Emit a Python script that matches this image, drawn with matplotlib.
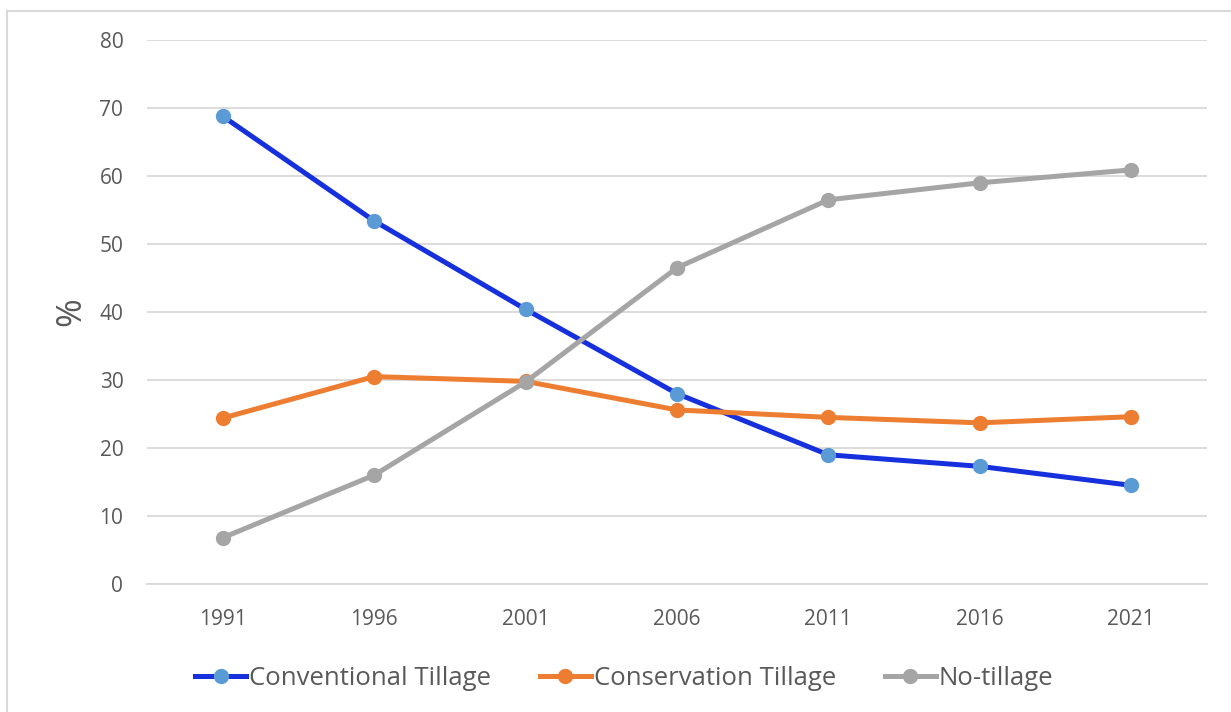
import matplotlib.pyplot as plt
from matplotlib.lines import Line2D

years = ['1991', '1996', '2001', '2006', '2011', '2016', '2021']
conventional = [68.8, 53.4, 40.4, 28.0, 19.0, 17.3, 14.5]
conservation = [24.4, 30.5, 29.8, 25.6, 24.5, 23.7, 24.6]
no_tillage = [6.8, 16.0, 29.7, 46.5, 56.5, 59.0, 60.9]

plt.rcParams['font.family'] = ['Open Sans', 'DejaVu Sans']
txt = '#595959'

fig = plt.figure(figsize=(12.31, 7.12), dpi=100)
ax = fig.add_axes([0.1194, 0.1798, 0.861, 0.764])

x = range(len(years))
ax.plot(x, conventional, color='#1530DC', lw=3.6, marker='o', ms=10,
        mfc='#5B9BD5', mec='#5B9BD5', label='Conventional Tillage', zorder=3)
ax.plot(x, conservation, color='#ED7D31', lw=3.6, marker='o', ms=10,
        mfc='#ED7D31', mec='#ED7D31', label='Conservation Tillage', zorder=3)
ax.plot(x, no_tillage, color='#A5A5A5', lw=3.6, marker='o', ms=10,
        mfc='#A5A5A5', mec='#A5A5A5', label='No-tillage', zorder=3)

ax.set_xlim(-0.5, 6.5)
ax.set_ylim(0, 80)
ax.set_yticks(range(0, 81, 10))
ax.set_xticks(list(x))
ax.set_xticklabels(years)
ax.grid(axis='y', color='#D9D9D9', lw=1.3)
ax.set_axisbelow(True)
for s in ['top', 'right', 'left']:
    ax.spines[s].set_visible(False)
ax.spines['bottom'].set_color('#D9D9D9')
ax.spines['bottom'].set_linewidth(1.3)
ax.tick_params(length=0, labelsize=15, colors=txt)
ax.tick_params(axis='x', pad=18)
ax.tick_params(axis='y', pad=17)
ax.set_ylabel('%', fontsize=25, color=txt, labelpad=8)

fig.legend(loc='center', bbox_to_anchor=(0.507, 0.047), ncol=3, frameon=False,
           fontsize=18.5, labelcolor=txt, handlelength=2.0, handletextpad=0.1,
           columnspacing=1.9)

# chart border (left and top visible)
fig.add_artist(Line2D([7 / 1231, 7 / 1231], [0, 1 - 11 / 712], color='#D9D9D9', lw=1.5))
fig.add_artist(Line2D([7 / 1231, 1], [1 - 11 / 712, 1 - 11 / 712], color='#D9D9D9', lw=1.5))

fig.savefig('out.png', dpi=100)
